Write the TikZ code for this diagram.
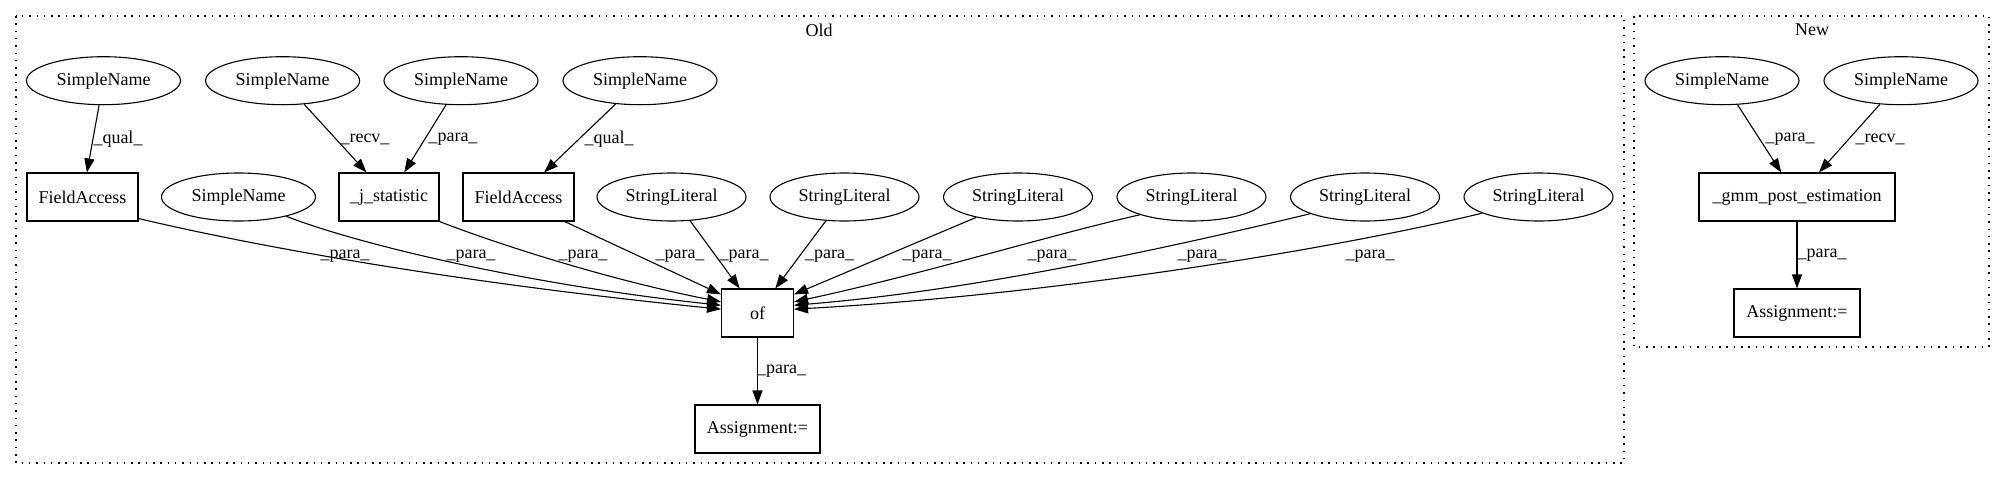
\documentclass[tikz,border=0pt]{standalone}
\usepackage{fontspec}
\setmainfont{Liberation Serif}
\usetikzlibrary{shapes.geometric,arrows.meta}
\begin{document}
\begin{tikzpicture}[x=1pt,y=-1pt,
  every node/.style={font=\fontsize{18}{21}\selectfont, inner sep=0pt},
  ell/.style={draw, ellipse, line width=1.1pt, minimum width=154pt, minimum height=48pt},
  sl/.style={ell, minimum width=149pt},
  box/.style={draw, rectangle, line width=1.1pt, minimum height=48pt},
  conn/.style={line width=1.1pt, -{Triangle[length=14pt,width=10pt]}},
  cluster/.style={line width=1.2pt, dash pattern=on 1.5pt off 5.8pt}
]
\useasboundingbox (0,0) rectangle (2005,480);
% clusters
\draw[cluster] (16,16) rectangle (1624,463);
\node (oldlbl) at (819,30) {Old};
\draw[cluster] (1634,16) rectangle (1989,347);
\node (newlbl) at (1812,30) {New};
% Old nodes
\node[ell] (sn1) at (103.5,80.7) {SimpleName};
\node[ell] (sn2) at (282.6,80.7) {SimpleName};
\node[ell] (sn3) at (461,80.7) {SimpleName};
\node[ell] (sn4) at (640,80.7) {SimpleName};
\node[box, minimum width=111pt] (fa1) at (82.5,197) {FieldAccess};
\node[ell] (sn5) at (238.5,197) {SimpleName};
\node[box, minimum width=100pt] (js) at (389,197) {\_j\_statistic};
\node[box, minimum width=111pt] (fa2) at (518.5,197) {FieldAccess};
\node[sl] (sl1) at (671.5,197) {StringLiteral};
\node[sl] (sl2) at (844.5,197) {StringLiteral};
\node[sl] (sl3) at (1018,197) {StringLiteral};
\node[sl] (sl4) at (1191.5,197) {StringLiteral};
\node[sl] (sl5) at (1365,197) {StringLiteral};
\node[sl] (sl6) at (1538.5,197) {StringLiteral};
\node[box, minimum width=72pt] (of) at (757.5,313) {of};
\node[box, minimum width=125pt] (as1) at (757.5,429) {Assignment:=};
% New nodes
\node[ell] (sn6) at (1722,80.7) {SimpleName};
\node[ell] (sn7) at (1901,80.7) {SimpleName};
\node[box, minimum width=196pt] (gmm) at (1797,197) {\_gmm\_post\_estimation};
\node[box, minimum width=126pt] (as2) at (1797,313) {Assignment:=};
% Old edges
\draw[conn] (sn1) -- (fa1);
\draw[conn] (sn2) -- (js);
\draw[conn] (sn3) -- (js);
\draw[conn] (sn4) -- (fa2);
\draw[conn] (fa1.-21) .. controls (250,245) and (450,282) .. (of.174);
\draw[conn] (sn5.-22) .. controls (360,245) and (530,285) .. (of.168);
\draw[conn] (js.south east) .. controls (500,245) and (610,280) .. (of.163);
\draw[conn] (fa2.-28) -- (of.153);
\draw[conn] (sl1.-52) -- (of.126);
\draw[conn] (sl2.-128) -- (of.54);
\draw[conn] (sl3.-154) -- (of.27);
\draw[conn] (sl4.-161) .. controls (1050,235) and (920,275) .. (of.17);
\draw[conn] (sl5.-163) .. controls (1180,245) and (980,290) .. (of.12);
\draw[conn] (sl6.-164) .. controls (1330,250) and (1050,295) .. (of.6);
\draw[conn] (of) -- (as1);
% New edges
\draw[conn] (sn6) -- (gmm);
\draw[conn] (sn7) -- (gmm);
\draw[conn] (gmm) -- (as2);
% edge labels
\node (l1) at (118,139) {\_qual\_};
\node (l2) at (365,139) {\_recv\_};
\node (l3) at (453,139) {\_para\_};
\node (l4) at (609,139) {\_qual\_};
\node (l5) at (345,256) {\_para\_};
\node (l6) at (471,256) {\_para\_};
\node (l7) at (583,256) {\_para\_};
\node (l8) at (680,256) {\_para\_};
\node (l9) at (744,256) {\_para\_};
\node (l10) at (829.5,256) {\_para\_};
\node (l11) at (927,256) {\_para\_};
\node (l12) at (1052,256) {\_para\_};
\node (l13) at (1202,256) {\_para\_};
\node (l14) at (1370,256) {\_para\_};
\node (l15) at (781.5,371) {\_para\_};
\node (l16) at (1790,139) {\_para\_};
\node (l17) at (1880,139) {\_recv\_};
\node (l18) at (1822,255) {\_para\_};
\end{tikzpicture}
\end{document}
